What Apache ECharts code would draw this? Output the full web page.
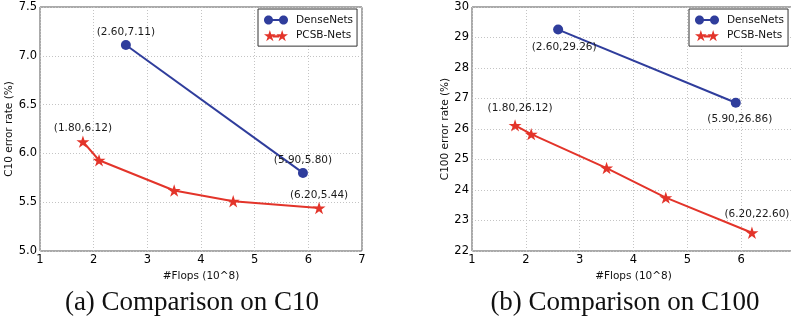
<!DOCTYPE html>
<html><head><meta charset="utf-8">
<script src="https://cdn.jsdelivr.net/npm/echarts@6/dist/echarts.min.js"></script>
<style>html,body{margin:0;padding:0;background:#fff;overflow:hidden;}#c{width:791px;height:320px;}</style>
</head><body><div id="c"></div>
<script>
// ---- data ----
const seriesNames = ['DenseNets', 'PCSB-Nets'];
const denseX = [2.6, 5.9];
const denseC10 = [7.11, 5.80];
const denseC100 = [29.26, 26.86];
const pcsbX = [1.8, 2.1, 3.5, 4.6, 6.2];
const pcsbC10 = [6.12, 5.93, 5.62, 5.51, 5.44];
const pcsbC100 = [26.12, 25.83, 24.72, 23.75, 22.60];
const xTicks = [1, 2, 3, 4, 5, 6, 7];
const c10Ticks = [5.0, 5.5, 6.0, 6.5, 7.0, 7.5];
const c100Ticks = [22, 23, 24, 25, 26, 27, 28, 29, 30];
const captions = ['(a) Comparison on C10', '(b) Comparison on C100'];
const yNames = ['C10 error rate (%)', 'C100 error rate (%)'];
const xName = '#Flops (10^8)';

// ---- styling ----
const BLUE = '#2f3d9c', RED = '#e3342a';
function starPath(cx, cy, r) {
  let p = [];
  for (let i = 0; i < 10; i++) {
    const a = -Math.PI / 2 + i * Math.PI / 5;
    const rr = i % 2 === 0 ? r : r * 0.382;
    p.push((i === 0 ? 'M' : 'L') + (cx + rr * Math.cos(a)).toFixed(3) + ',' + (cy + rr * Math.sin(a)).toFixed(3));
  }
  return p.join('') + 'Z';
}
function circPath(cx, cy, r) {
  // polygon approximation of a circle (consistent winding)
  let p = [];
  for (let i = 0; i < 32; i++) {
    const a = i * Math.PI * 2 / 32;
    p.push((i === 0 ? 'M' : 'L') + (cx + r * Math.cos(a)).toFixed(3) + ',' + (cy + r * Math.sin(a)).toFixed(3));
  }
  return p.join('') + 'Z';
}
function rectPath(x0, y0, x1, y1) {
  return 'M' + x0 + ',' + y0 + 'L' + x1 + ',' + y0 + 'L' + x1 + ',' + y1 + 'L' + x0 + ',' + y1 + 'Z';
}
const STAR = 'path://' + starPath(0, 0, 10);
const legIconDense = 'path://' + circPath(4.5, 6, 4.5) + rectPath(8.5, 5, 15.5, 7) + circPath(19.5, 6, 4.5) + rectPath(0, 0, 0.01, 12);
const legIconPcsb = 'path://' + starPath(6, 6.6, 6) + rectPath(9, 5.8, 15, 7.8) + starPath(18, 6.6, 6);

const fmt = (x, y) => '(' + x.toFixed(2) + ',' + y.toFixed(2) + ')';
function mkData(xs, ys, labelPos) {
  return xs.map((x, i) => {
    const d = { value: [x, ys[i]] };
    if (labelPos[i]) {
      d.label = Object.assign({ show: true, formatter: fmt(x, ys[i]), color: '#1a1a1a', fontSize: 10.5, fontFamily: 'DejaVu Sans' }, labelPos[i]);
    }
    return d;
  });
}

const gridLine = { show: true, lineStyle: { color: '#c4c4c4', type: [1, 2], width: 1 } };
const axisLbl = { color: '#000', fontSize: 11.5, fontFamily: 'DejaVu Sans' };
const gridCommon = { top: 7, height: 244, show: true, borderColor: '#555', borderWidth: 1, backgroundColor: 'transparent',
  containLabel: false, outerBoundsMode: 'none' };
const grids = [
  Object.assign({ left: 40, width: 322 }, gridCommon),
  Object.assign({ left: 472, width: 323 }, gridCommon)
];
const xAxes = [0, 1].map(g => ({
  type: 'value', gridIndex: g, min: 1, max: 7, interval: 1,
  axisLine: { show: false }, axisTick: { show: false },
  axisLabel: Object.assign({ margin: 3 }, axisLbl), splitLine: gridLine,
  name: xName, nameLocation: 'middle', nameGap: 15,
  nameTextStyle: { fontSize: 10.5, color: '#111', fontFamily: 'DejaVu Sans' }
}));
const yAxes = [
  { type: 'value', gridIndex: 0, min: 5.0, max: 7.5, interval: 0.5,
    axisLabel: Object.assign({ margin: 3, formatter: v => v.toFixed(1) }, axisLbl) },
  { type: 'value', gridIndex: 1, min: 22, max: 30, interval: 1,
    axisLabel: Object.assign({ margin: 3 }, axisLbl) }
].map((a, i) => Object.assign(a, {
  axisLine: { show: false }, axisTick: { show: false }, splitLine: gridLine,
  name: yNames[i], nameLocation: 'middle', nameGap: i === 0 ? 23 : 18, nameRotate: 90,
  nameTextStyle: { fontSize: 10.5, color: '#111', fontFamily: 'DejaVu Sans' }
}));

const lineCommon = { type: 'line', z: 3, animation: false };
const series = [
  Object.assign({}, lineCommon, { name: seriesNames[0], xAxisIndex: 0, yAxisIndex: 0, symbol: 'circle', symbolSize: 10,
    color: BLUE, lineStyle: { width: 2, color: BLUE },
    data: mkData(denseX, denseC10, [{ position: 'top', distance: 2 }, { position: 'top', distance: 2 }]) }),
  Object.assign({}, lineCommon, { name: seriesNames[1], xAxisIndex: 0, yAxisIndex: 0, symbol: STAR, symbolSize: 13, symbolKeepAspect: true,
    color: RED, lineStyle: { width: 2, color: RED },
    data: mkData(pcsbX, pcsbC10, [{ position: 'top', distance: 1.5 }, null, null, null, { position: 'top', distance: 1.5 }]) }),
  Object.assign({}, lineCommon, { name: seriesNames[0], xAxisIndex: 1, yAxisIndex: 1, symbol: 'circle', symbolSize: 10,
    color: BLUE, lineStyle: { width: 2, color: BLUE },
    data: mkData(denseX, denseC100, [{ position: 'bottom', distance: 7, offset: [6, 0] }, { position: 'bottom', distance: 6, offset: [4, 0] }]) }),
  Object.assign({}, lineCommon, { name: seriesNames[1], xAxisIndex: 1, yAxisIndex: 1, symbol: STAR, symbolSize: 13, symbolKeepAspect: true,
    color: RED, lineStyle: { width: 2, color: RED },
    data: mkData(pcsbX, pcsbC100, [{ position: 'top', distance: 5.5, offset: [5, 0] }, null, null, null, { position: 'top', distance: 6.5, offset: [5, 0] }]) })
];

const legendBase = {
  orient: 'vertical', borderColor: '#333', borderWidth: 1, padding: [5, 4, 5, 6], itemGap: 4,
  itemWidth: 24, itemHeight: 12, backgroundColor: '#fff',
  textStyle: { fontSize: 10.5, color: '#111', fontFamily: 'DejaVu Sans', padding: [0, 0, 0, 3] },
  data: [{ name: seriesNames[0], icon: legIconDense }, { name: seriesNames[1], icon: legIconPcsb }],
  selectedMode: false
};
const legends = [
  Object.assign({}, legendBase, { left: 258, top: 9 }),
  Object.assign({}, legendBase, { left: 689, top: 9 })
];

const titles = [
  { text: captions[0], left: 187, top: 284 },
  { text: captions[1], left: 620, top: 284 }
].map(t => Object.assign(t, { textAlign: 'center',
  textStyle: { fontFamily: 'Liberation Serif', fontWeight: 'normal', fontSize: 27, color: '#111' } }));

const chart = echarts.init(document.getElementById('c'), null, { renderer: 'canvas' });
chart.setOption({
  animation: false, backgroundColor: '#fff',
  title: titles, legend: legends, grid: grids, xAxis: xAxes, yAxis: yAxes, series: series
});
</script></body></html>
